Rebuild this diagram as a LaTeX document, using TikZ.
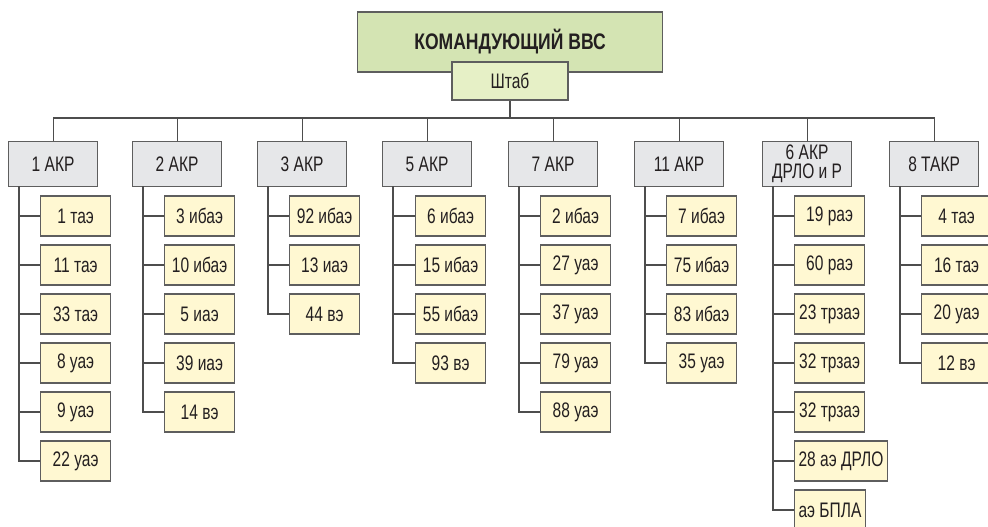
\documentclass[tikz,border=0pt]{standalone}
\usepackage{fontspec}
\newfontfamily\narrowsans[FakeStretch=0.74]{Liberation Sans}
\newfontfamily\narrowbold[FakeStretch=0.78]{Liberation Sans Bold}
\usepackage{tikz}
\usetikzlibrary{positioning}
\definecolor{cmdgreen}{HTML}{D4E4B3}
\definecolor{hqgreen}{HTML}{E6F0C6}
\definecolor{akrgray}{HTML}{E6E7E9}
\definecolor{unityellow}{HTML}{FFF8D2}
\definecolor{linegray}{HTML}{4D4D4D}
\definecolor{framegray}{HTML}{5E5E5E}
\definecolor{inkblack}{HTML}{231F20}
\tikzset{
  box/.style={draw=framegray,line width=1.2pt,inner sep=0pt,
    font=\narrowsans\fontsize{21}{23}\selectfont,text=inkblack},
  cmdbox/.style={box,fill=cmdgreen,minimum width=305pt,minimum height=60pt,
    font=\narrowbold\fontsize{22.5}{24}\selectfont},
  hqbox/.style={box,fill=hqgreen,minimum width=116pt,minimum height=38pt},
  akr/.style={box,fill=akrgray,minimum width=89pt,minimum height=45pt,
    anchor=north west,align=center},
  unit/.style={box,fill=unityellow,minimum width=70pt,minimum height=40pt,
    inner xsep=4pt,anchor=west},
  link/.style={draw=linegray,line width=1.2pt}
}

\begin{document}
\begin{tikzpicture}[x=1pt,y=-1pt]
  \clip (0,0) rectangle (988,527);
  % command level
  \node[cmdbox] (cmd) at (510,42) {КОМАНДУЮЩИЙ ВВС};
  \node[hqbox] (hq) at (510,81) {Штаб};
  \coordinate (bus) at (510,118);
  \draw[link] (hq.south) -- (bus);
  % air army corps
  \node[akr] (akr1) at (8,141) {1 АКР};
  \node[akr] (akr2) at (132,141) {2 АКР};
  \node[akr] (akr3) at (257,141) {3 АКР};
  \node[akr] (akr5) at (382,141) {5 АКР};
  \node[akr] (akr7) at (508,141) {7 АКР};
  \node[akr] (akr11) at (634,141) {11 АКР};
  \node[akr,font=\narrowsans\fontsize{21}{19}\selectfont] (akr6) at (762,141)
    {6 АКР\\ДРЛО и Р};
  \node[akr] (takr8) at (889,141) {8 ТАКР};
  \foreach \k in {akr1,akr2,akr3,akr5,akr7,akr11,akr6,takr8}
    \draw[link] (\k.north) |- (bus);
  % spines
  \coordinate (s1) at (19,186);
  \coordinate (s2) at (143,186);
  \coordinate (s3) at (268,186);
  \coordinate (s5) at (393,186);
  \coordinate (s7) at (519,186);
  \coordinate (s11) at (645,186);
  \coordinate (s6) at (773,186);
  \coordinate (s8) at (900,186);
  % squadrons
  \foreach \txt [count=\i] in {1 таэ,11 таэ,33 таэ,8 уаэ,9 уаэ,22 уаэ}{
    \node[unit] (u1-\i) at (40,{216+49*(\i-1)}) {\txt};
    \draw[link] (s1) |- (u1-\i.west);
  }
  \foreach \txt [count=\i] in {3 ибаэ,10 ибаэ,5 иаэ,39 иаэ,14 вэ}{
    \node[unit] (u2-\i) at (164,{216+49*(\i-1)}) {\txt};
    \draw[link] (s2) |- (u2-\i.west);
  }
  \foreach \txt [count=\i] in {92 ибаэ,13 иаэ,44 вэ}{
    \node[unit] (u3-\i) at (289,{216+49*(\i-1)}) {\txt};
    \draw[link] (s3) |- (u3-\i.west);
  }
  \foreach \txt [count=\i] in {6 ибаэ,15 ибаэ,55 ибаэ,93 вэ}{
    \node[unit] (u5-\i) at (415,{216+49*(\i-1)}) {\txt};
    \draw[link] (s5) |- (u5-\i.west);
  }
  \foreach \txt [count=\i] in {2 ибаэ,27 уаэ,37 уаэ,79 уаэ,88 уаэ}{
    \node[unit] (u7-\i) at (540,{216+49*(\i-1)}) {\txt};
    \draw[link] (s7) |- (u7-\i.west);
  }
  \foreach \txt [count=\i] in {7 ибаэ,75 ибаэ,83 ибаэ,35 уаэ}{
    \node[unit] (u11-\i) at (666,{216+49*(\i-1)}) {\txt};
    \draw[link] (s11) |- (u11-\i.west);
  }
  \foreach \txt [count=\i] in {19 раэ,60 раэ,23 трзаэ,32 трзаэ,32 трзаэ,
      28 аэ ДРЛО,аэ БПЛА}{
    \node[unit] (u6-\i) at (794,{216+49*(\i-1)}) {\txt};
    \draw[link] (s6) |- (u6-\i.west);
  }
  \foreach \txt [count=\i] in {4 таэ,16 таэ,20 уаэ,12 вэ}{
    \node[unit] (u8-\i) at (921,{216+49*(\i-1)}) {\txt};
    \draw[link] (s8) |- (u8-\i.west);
  }
\end{tikzpicture}
\end{document}
